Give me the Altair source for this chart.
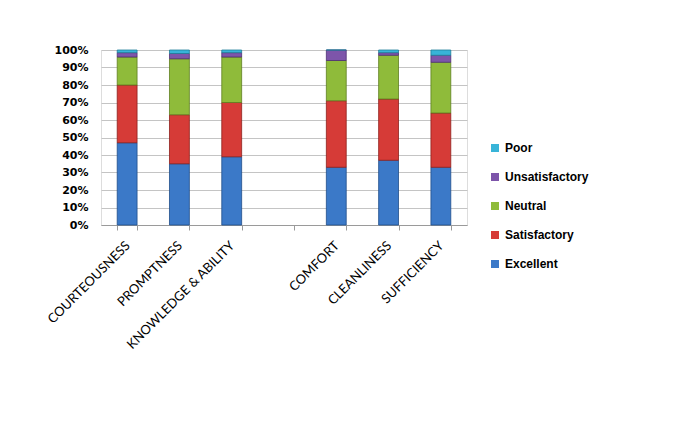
import altair as alt
import pandas as pd

categories = ["COURTEOUSNESS", "PROMPTNESS", "KNOWLEDGE & ABILITY", " ", "COMFORT", "CLEANLINESS", "SUFFICIENCY"]
bar_categories = ["COURTEOUSNESS", "PROMPTNESS", "KNOWLEDGE & ABILITY", "COMFORT", "CLEANLINESS", "SUFFICIENCY"]
series = ["Excellent", "Satisfactory", "Neutral", "Unsatisfactory", "Poor"]
excellent = [47, 35, 39, 33, 37, 33]
satisfactory = [33, 28, 31, 38, 35, 31]
neutral = [16, 32, 26, 23, 25, 29]
unsatisfactory = [2.5, 3, 2.5, 6, 1.5, 4]
poor = [1.5, 2, 1.5, 0, 1.5, 3]

legend_order = ["Poor", "Unsatisfactory", "Neutral", "Satisfactory", "Excellent"]
colors = ["#38B4D8", "#7D55AA", "#8FBB3A", "#D63B37", "#3B79C8"]
strokes = ["#1E7D99", "#4E2F73", "#5E7F20", "#8E1F1C", "#1F4E8A"]

rows = []
for s_i, (name, vals) in enumerate(zip(series, [excellent, satisfactory, neutral, unsatisfactory, poor])):
    for cat, v in zip(bar_categories, vals):
        rows.append({"category": cat, "series": name, "value": v, "rank": s_i})
df = pd.DataFrame(rows)

chart = alt.Chart(df).mark_bar(strokeWidth=0.8).encode(
    x=alt.X("category:N", scale=alt.Scale(domain=categories, paddingInner=0.62, paddingOuter=0.31),
            axis=alt.Axis(title=None, labelAngle=-45, labelFont="Lato", labelFontSize=13,
                          labelColor="#000000", domainColor="#9a9a9a", tickColor="#9a9a9a",
                          tickBand="extent", tickSize=5, labelPadding=9, labelOffset=-4)),
    y=alt.Y("value:Q", stack="normalize",
            scale=alt.Scale(domain=[0, 1]),
            axis=alt.Axis(title=None, format=".0%", values=[i / 10 for i in range(11)],
                          labelFont="DejaVu Sans", labelFontWeight="bold", labelFontSize=11,
                          labelColor="#000000", domain=False, ticks=False, labelPadding=13,
                          gridColor="#c4c4c4")),
    color=alt.Color("series:N", scale=alt.Scale(domain=legend_order, range=colors),
                    legend=alt.Legend(title=None, orient="none", legendX=388, legendY=92,
                                      symbolType="square", symbolSize=64, labelFont="Liberation Sans",
                                      labelFontWeight="bold", labelFontSize=12, labelColor="#000000",
                                      rowPadding=17, symbolStrokeWidth=0)),
    stroke=alt.Stroke("series:N", scale=alt.Scale(domain=legend_order, range=strokes), legend=None),
    order=alt.Order("rank:Q", sort="ascending"),
).properties(
    width=366, height=175,
    autosize=alt.AutoSizeParams(type="none"),
    padding={"left": 93, "top": 42, "right": 200, "bottom": 170}
).configure_view(stroke=None).configure(background="#ffffff")

chart.save("out.html", embed_options={"renderer": "svg", "actions": False})
